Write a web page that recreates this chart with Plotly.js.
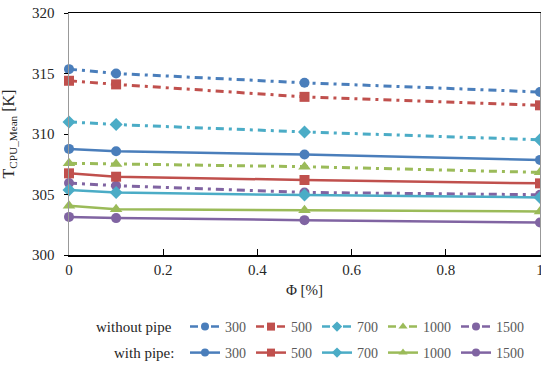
<!DOCTYPE html>
<html>
<head>
<meta charset="utf-8">
<script src="https://cdn.plot.ly/plotly-3.0.1.min.js"></script>
<style>html,body{margin:0;padding:0;background:#fff;}#chart{width:541px;height:365px;}</style>
</head>
<body>
<div id="chart"></div>
<script>
const phi = [0, 0.1, 0.5, 1];
const seriesNames = ['300', '500', '700', '1000', '1500'];
const withoutPipe = {
  '300':  [315.36, 315.0, 314.23, 313.47],
  '500':  [314.4, 314.1, 313.07, 312.37],
  '700':  [311.0, 310.78, 310.17, 309.52],
  '1000': [307.58, 307.53, 307.3, 306.83],
  '1500': [305.95, 305.73, 305.17, 304.98]
};
const withPipe = {
  '300':  [308.77, 308.57, 308.3, 307.86],
  '500':  [306.75, 306.47, 306.2, 305.92],
  '700':  [305.37, 305.17, 304.95, 304.76],
  '1000': [304.07, 303.79, 303.7, 303.6],
  '1500': [303.15, 303.05, 302.88, 302.68]
};
const colors = ['#4A7EBB', '#C0504D', '#4BACC6', '#9BBB59', '#8064A2'];
const symbols = ['circle', 'square', 'diamond', 'triangle-up', 'circle'];
const sizes = [10, 10, 10, 11, 10];

const serif = 'Liberation Serif, Times New Roman, serif';
const dashDot = '8px,5px,3px,5px';
const traces = [];
function addGroup(data, legendId, lineStyle) {
  seriesNames.forEach((n, i) => {
    traces.push({
      x: phi, y: data[n], name: n, type: 'scatter', mode: 'lines+markers',
      legend: legendId, showlegend: false, cliponaxis: false,
      line: Object.assign({color: colors[i]}, lineStyle),
      marker: {color: colors[i], symbol: symbols[i], size: sizes[i]}
    });
  });
  // legend entries with smaller symbols, as in the reference
  seriesNames.forEach((n, i) => {
    traces.push({
      x: [null], y: [null], name: n, type: 'scatter', mode: 'lines+markers',
      legend: legendId, showlegend: true,
      line: Object.assign({color: colors[i]}, lineStyle, {width: 2.5}),
      marker: {color: colors[i], symbol: symbols[i], size: 8}
    });
  });
}
addGroup(withoutPipe, 'legend', {width: 3, dash: dashDot});
addGroup(withPipe, 'legend2', {width: 2.5});

const legendCommon = {
  orientation: 'h', xref: 'container', yref: 'container',
  xanchor: 'left', yanchor: 'middle',
  font: {family: serif, size: 14, color: '#595959'},
  bgcolor: 'rgba(0,0,0,0)', tracegroupgap: 0, traceorder: 'normal'
};

const layout = {
  width: 541, height: 365,
  margin: {l: 69, r: 1, t: 13, b: 110},
  paper_bgcolor: '#fff', plot_bgcolor: '#fff',
  font: {family: serif, size: 15, color: '#262626'},
  showlegend: true,
  xaxis: {
    range: [0, 1], tickvals: [0, 0.2, 0.4, 0.6, 0.8, 1],
    ticktext: ['0', '0.2', '0.4', '0.6', '0.8', '1'],
    ticklabeloverflow: 'allow',
    showgrid: false, zeroline: false,
    showline: true, linecolor: '#000', linewidth: 1.5, mirror: true,
    ticks: 'inside', ticklen: 6, tickcolor: '#000',
    tickfont: {family: serif, size: 15, color: '#262626'},
    title: {text: 'Φ [%]', font: {family: serif, size: 15, color: '#262626'}, standoff: 8}
  },
  yaxis: {
    range: [300, 320], tickvals: [300, 305, 310, 315, 320],
    showgrid: false, zeroline: false,
    showline: true, linecolor: '#999', linewidth: 1.5, mirror: true,
    ticks: 'outside', ticklen: 4, tickcolor: '#000',
    ticklabelstandoff: 6,
    tickfont: {family: serif, size: 15, color: '#262626'},
    title: {text: 'T<sub>CPU_Mean</sub> [K]', font: {family: serif, size: 16, color: '#262626'}, standoff: 14}
  },
  legend: Object.assign({}, legendCommon, {x: 185 / 541, y: 1 - 327 / 365}),
  legend2: Object.assign({}, legendCommon, {x: 185 / 541, y: 1 - 353 / 365}),
  annotations: [
    {text: 'without pipe', xref: 'paper', yref: 'paper', x: (174 - 69) / 471, y: -(327 - 255) / 242,
     xanchor: 'right', yanchor: 'middle', showarrow: false, font: {family: serif, size: 15, color: '#262626'}},
    {text: 'with pipe:', xref: 'paper', yref: 'paper', x: (176 - 69) / 471, y: -(353 - 255) / 242,
     xanchor: 'right', yanchor: 'middle', showarrow: false, font: {family: serif, size: 15, color: '#262626'}}
  ]
};

Plotly.newPlot('chart', traces, layout, {displayModeBar: false, staticPlot: true});
</script>
</body>
</html>
